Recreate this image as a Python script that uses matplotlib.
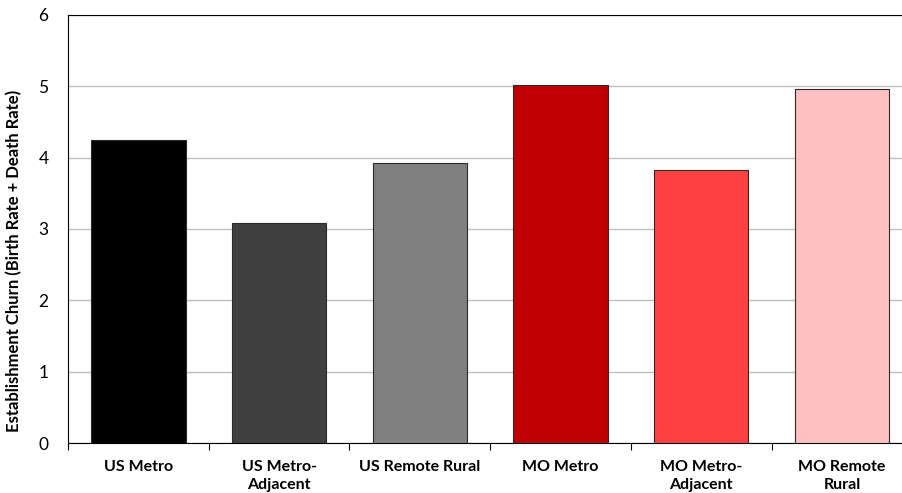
import numpy as np
import matplotlib.pyplot as plt

categories = ["US Metro", "US Metro-\nAdjacent", "US Remote Rural",
              "MO Metro", "MO Metro-\nAdjacent", "MO Remote\nRural"]
churn = [4.25, 3.08, 3.93, 5.02, 3.83, 4.96]
colors = ["#000000", "#404040", "#808080", "#C00000", "#FF4040", "#FFC0C0"]

plt.rcParams['font.family'] = ['Lato', 'DejaVu Sans']

fig = plt.figure(figsize=(9.02, 4.93), dpi=100)
ax = fig.add_axes([0.0754, 0.1014, 0.936, 0.8682])

x = np.arange(len(categories))
ax.bar(x, churn, width=0.67, color=colors, edgecolor="#2a2a2a", linewidth=0.8, zorder=3)

ax.set_xlim(-0.5, len(categories) - 0.5)
ax.set_ylim(0, 6)
ax.set_yticks(range(0, 7))
ax.yaxis.grid(True, color="#c0c0c0", linewidth=1.0, zorder=0)
ax.tick_params(axis='y', length=0, pad=14, labelsize=12.5)

# category labels centred, tick marks between categories
ax.set_xticks(x)
ax.set_xticklabels(categories, fontweight='bold', fontsize=11.5, linespacing=1.4)
ax.set_xticks(np.arange(-0.5, len(categories)), minor=True)
ax.tick_params(axis='x', which='major', length=0, pad=12)
ax.tick_params(axis='x', which='minor', length=5, width=0.8, direction='out')

for s in ax.spines.values():
    s.set_linewidth(0.8)
    s.set_color("black")

ax.set_ylabel("Establishment Churn (Birth Rate + Death Rate)", fontweight='bold',
              fontsize=12)
ax.yaxis.set_label_coords(-0.054, 0.425)

fig.savefig("out.png", dpi=100)
